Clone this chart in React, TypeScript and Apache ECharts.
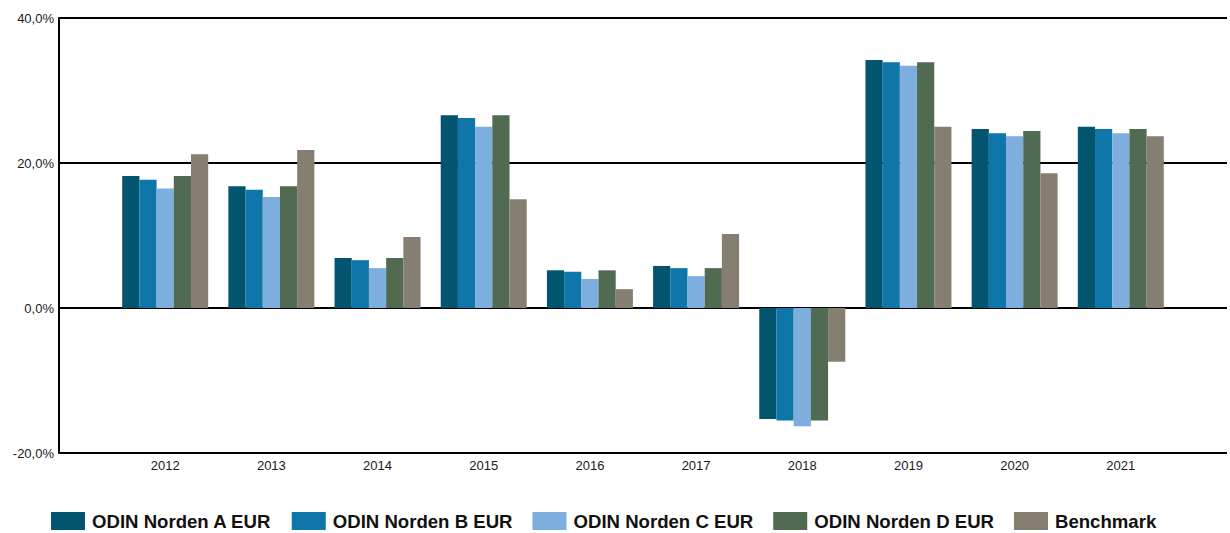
import React, { useEffect, useRef } from "react";
import * as echarts from "echarts";

const years = ["2012", "2013", "2014", "2015", "2016", "2017", "2018", "2019", "2020", "2021"];
const seriesNames = ["ODIN Norden A EUR", "ODIN Norden B EUR", "ODIN Norden C EUR", "ODIN Norden D EUR", "Benchmark"];
const seriesColors = ["#02546F", "#0F76AA", "#7DAEDD", "#516A52", "#877E72"];
const valuesA = [18.2, 16.8, 6.9, 26.6, 5.2, 5.8, -15.3, 34.2, 24.7, 25.0];
const valuesB = [17.7, 16.3, 6.6, 26.2, 5.0, 5.5, -15.5, 33.9, 24.1, 24.7];
const valuesC = [16.5, 15.3, 5.5, 25.0, 4.0, 4.4, -16.3, 33.4, 23.7, 24.1];
const valuesD = [18.2, 16.8, 6.9, 26.6, 5.2, 5.5, -15.5, 33.9, 24.4, 24.7];
const valuesBench = [21.2, 21.8, 9.8, 15.0, 2.6, 10.2, -7.4, 25.0, 18.6, 23.7];
const yTicks = { min: -20, max: 40, interval: 20 };

const allValues = [valuesA, valuesB, valuesC, valuesD, valuesBench];

export default function App() {
  const ref = useRef<HTMLDivElement>(null);
  useEffect(() => {
    if (!ref.current) return;
    const chart = echarts.init(ref.current, null, { renderer: "svg" });
    const cats = ["", ...years, ""];
    chart.setOption({
      animation: false,
      backgroundColor: "#ffffff",
      textStyle: { fontFamily: "Liberation Sans, Arial, sans-serif" },
      grid: { left: 59, width: 1174, top: 18, bottom: 80, containLabel: false },
      legend: {
        left: 51,
        top: 511,
        padding: 0,
        itemWidth: 34,
        itemHeight: 18,
        itemGap: 20,
        icon: "rect",
        textStyle: {
          fontSize: 18.6,
          fontWeight: "bold",
          color: "#111",
          lineHeight: 20,
          fontFamily: "Liberation Sans, Arial, sans-serif",
          padding: [0, 0, 0, 2],
        },
        data: seriesNames,
      },
      xAxis: {
        type: "category",
        data: cats,
        boundaryGap: false,
        axisLine: { show: false },
        axisTick: { show: false },
        splitLine: { show: false },
        axisLabel: { fontSize: 13, color: "#1a1a1a", margin: 6 },
      },
      yAxis: {
        type: "value",
        min: yTicks.min,
        max: yTicks.max,
        interval: yTicks.interval,
        axisLine: { show: true, lineStyle: { color: "#000", width: 2 } },
        axisTick: { show: false },
        axisLabel: {
          fontSize: 13,
          color: "#1a1a1a",
          margin: 5,
          formatter: (v: number) => v.toFixed(1).replace(".", ",") + "%",
        },
        splitLine: { show: true, lineStyle: { color: "#000", width: 2 } },
      },
      series: seriesNames.map((name, i) => ({
        name,
        type: "bar",
        data: [null, ...allValues[i], null],
        barGap: "0%",
        barCategoryGap: "19%",
        itemStyle: { color: seriesColors[i] },
      })),
    });
    return () => chart.dispose();
  }, []);
  return (
    <div
      ref={ref}
      style={{ position: "absolute", left: 0, top: 0, width: 1230, height: 533 }}
    />
  );
}
